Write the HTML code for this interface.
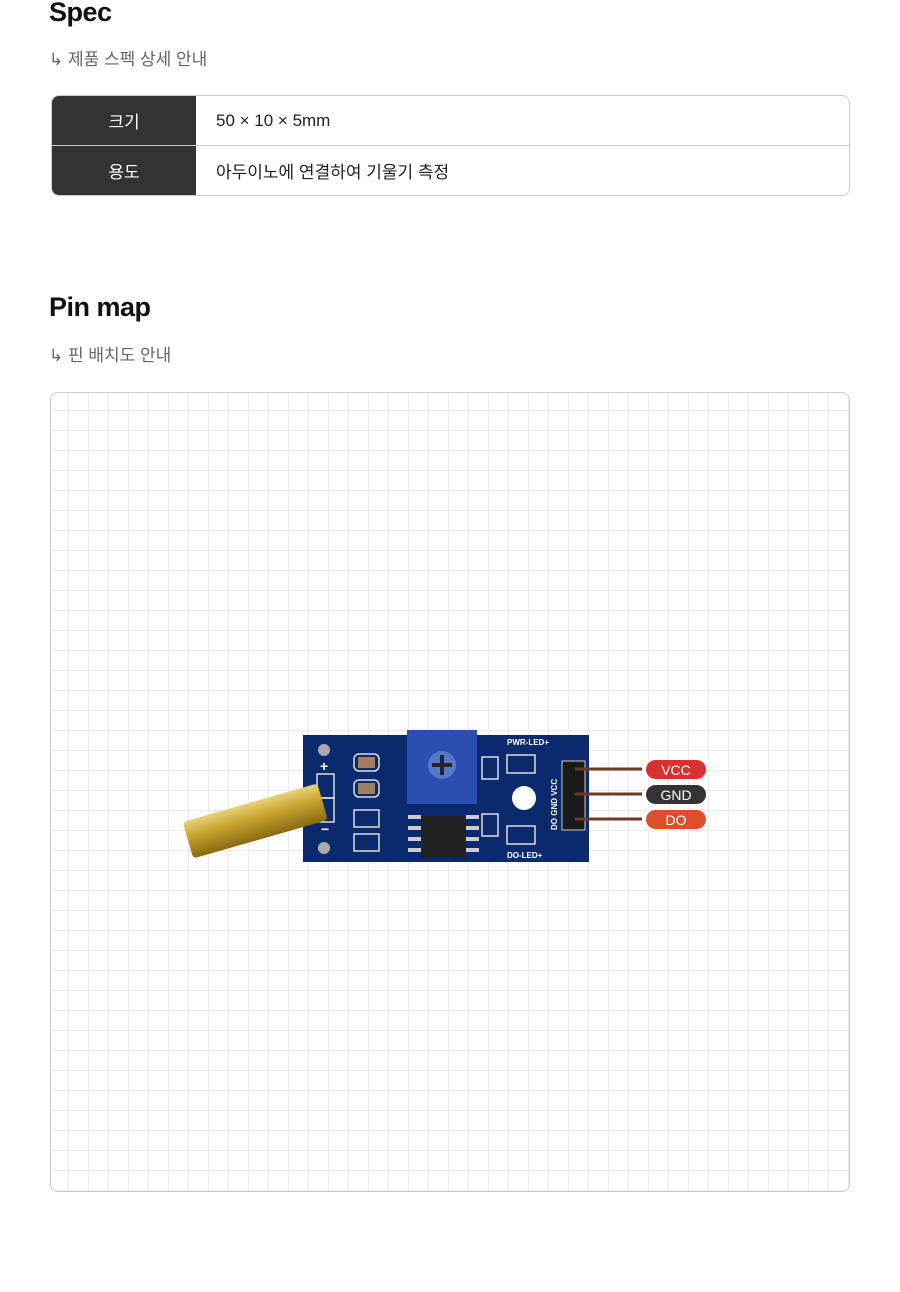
<!DOCTYPE html>
<html><head><meta charset="utf-8"><style>
body{margin:0;width:900px;height:1292px;background:#fff;font-family:"Liberation Sans","Noto Sans CJK KR",sans-serif;position:relative;overflow:hidden}
h2{position:absolute;left:49px;margin:0;font-size:27px;font-weight:bold;color:#111;letter-spacing:-0.5px}
.sub{position:absolute;left:49px;font-size:17px;color:#666}
table{position:absolute;left:51px;top:95px;width:799px;border-collapse:separate;border-spacing:0;border:1px solid #ccc;border-radius:8px;overflow:hidden;font-size:17px}
td{height:49px;padding:0}
td.k{width:144px;background:#333;color:#fff;text-align:center}
td.v{padding-left:20px;color:#222}
tr:first-child td{border-bottom:1px solid #ccc}
.grid{position:absolute;left:50px;top:392px;width:798px;height:798px;border:1px solid #ccc;border-radius:8px;
background-image:linear-gradient(to right,#ececec 1px,transparent 1px),linear-gradient(to bottom,#ececec 1px,transparent 1px);
background-size:20px 20px;background-position:17px 17px}
</style></head><body>
<h2 style="top:-3px">Spec</h2>
<div class="sub" style="top:45px">↳ 제품 스펙 상세 안내</div>
<table><tr><td class="k">크기</td><td class="v">50 × 10 × 5mm</td></tr>
<tr><td class="k">용도</td><td class="v">아두이노에 연결하여 기울기 측정</td></tr></table>
<h2 style="top:292px">Pin map</h2>
<div class="sub" style="top:341px">↳ 핀 배치도 안내</div>
<div class="grid"></div>
<svg style="position:absolute;left:0;top:0" width="900" height="1292">
<defs><linearGradient id="g" x1="0" y1="0" x2="0" y2="1"><stop offset="0" stop-color="#e8d27a"/><stop offset=".4" stop-color="#c9a530"/><stop offset="1" stop-color="#8a6a10"/></linearGradient></defs>
<rect x="303" y="735" width="286" height="127" fill="#0b2a6e"/>
<rect x="407" y="730" width="70" height="74" fill="#2a4fb0"/>
<circle cx="442" cy="765" r="14" fill="#5578c8"/><path d="M442 755v20M432 765h20" stroke="#223" stroke-width="4"/>
<rect x="421" y="816" width="45" height="42" fill="#222"/>
<g fill="#ccc"><rect x="408" y="815" width="13" height="4"/><rect x="408" y="826" width="13" height="4"/><rect x="408" y="837" width="13" height="4"/><rect x="408" y="848" width="13" height="4"/><rect x="466" y="815" width="13" height="4"/><rect x="466" y="826" width="13" height="4"/><rect x="466" y="837" width="13" height="4"/><rect x="466" y="848" width="13" height="4"/></g>
<g fill="none" stroke="#ddd" stroke-width="1.5"><rect x="354" y="754" width="25" height="17" rx="5"/><rect x="354" y="780" width="25" height="17" rx="5"/><rect x="354" y="810" width="25" height="17"/><rect x="354" y="834" width="25" height="17"/><rect x="317" y="774" width="17" height="24"/><rect x="317" y="798" width="17" height="24"/><rect x="507" y="755" width="28" height="18"/><rect x="507" y="826" width="28" height="18"/><rect x="482" y="757" width="16" height="22"/><rect x="482" y="814" width="16" height="22"/></g>
<g fill="#a08060"><rect x="358" y="757" width="17" height="11"/><rect x="358" y="783" width="17" height="11"/></g>
<circle cx="324" cy="750" r="6" fill="#aaa"/><circle cx="324" cy="848" r="6" fill="#aaa"/>
<circle cx="524" cy="798" r="12" fill="#fff"/>
<rect x="562" y="761" width="23" height="69" fill="#1a1a1a" stroke="#ccc"/>
<g stroke="#6b3a22" stroke-width="3"><line x1="575" y1="769" x2="642" y2="769"/><line x1="575" y1="794" x2="642" y2="794"/><line x1="575" y1="819" x2="642" y2="819"/></g>
<g fill="#fff" font-size="8" font-weight="bold"><text x="507" y="745">PWR-LED+</text><text x="507" y="858">DO-LED+</text><text x="320" y="771" font-size="14">+</text><text x="321" y="834" font-size="14">−</text></g>
<text transform="translate(557,830) rotate(-90)" fill="#fff" font-size="8" font-weight="bold">DO GND VCC</text>
<g transform="rotate(-16 255 820)"><rect x="185" y="802" width="140" height="38" rx="4" fill="url(#g)"/></g>
<rect x="646" y="760" width="60" height="19" rx="9.5" fill="#d93030"/>
<rect x="646" y="785" width="60" height="19" rx="9.5" fill="#333"/>
<rect x="646" y="810" width="60" height="19" rx="9.5" fill="#d9502a"/>
<g fill="#fff" font-size="14" text-anchor="middle"><text x="676" y="775">VCC</text><text x="676" y="800">GND</text><text x="676" y="825">DO</text></g>
</svg>
</body></html>
